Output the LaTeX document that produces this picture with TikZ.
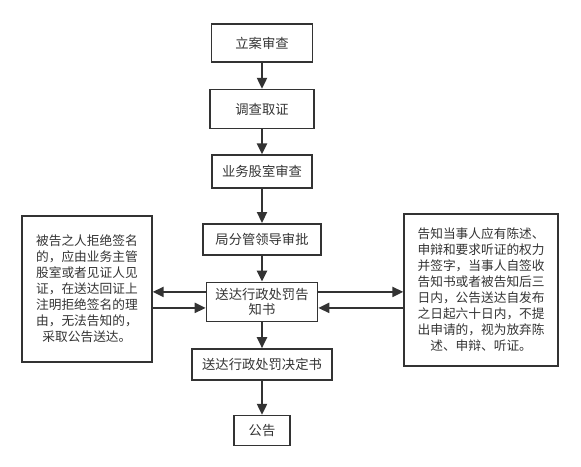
\documentclass[tikz,border=0pt]{standalone}
\usepackage{fontspec}
\setmainfont{Noto Sans CJK SC}
\usetikzlibrary{arrows.meta, positioning}
\definecolor{linegray}{HTML}{333333}

\begin{document}
\begin{tikzpicture}[x=1pt, y=1pt,
    node distance=27pt,
    stepbox/.style={draw=linegray, line width=1.6pt, text=linegray, font=\fontsize{13.3}{15.5}\selectfont, align=center, minimum height=31pt, inner sep=2pt},
    notebox/.style={draw=linegray, line width=1.6pt, text=linegray, font=\fontsize{12.7}{16}\selectfont, align=center, inner sep=2pt},
    flow/.style={-{Triangle[length=11pt, width=10pt]}, line width=2.2pt, draw=linegray},
  ]
  \useasboundingbox (0,0) rectangle (581,-466);

  \node[stepbox, minimum width=101pt, minimum height=38pt] (filing) at (262,-43) {立案审查};
  \node[stepbox, minimum width=104pt, minimum height=39pt, below=26pt of filing] (survey) {调查取证};
  \node[stepbox, minimum width=100pt, minimum height=33pt, below=25pt of survey] (office) {业务股室审查};
  \node[stepbox, minimum width=118pt, below=34pt of office] (leader) {局分管领导审批};
  \node[stepbox, minimum width=111pt, minimum height=39pt, below=26pt of leader] (inform) {送达行政处罚告\\知书};
  \node[stepbox, minimum width=140pt, below=26pt of inform] (decision) {送达行政处罚决定书};
  \node[stepbox, minimum width=56pt, minimum height=30pt, below=34pt of decision] (announce) {公告};

  % side notes
  \node[notebox, minimum width=130pt, minimum height=146pt, left=53pt of inform, yshift=13pt] (refuse) {被告之人拒绝签名\\的，应由业务主管\\股室或者见证人见\\证，在送达回证上\\注明拒绝签名的理\\由，无法告知的，\\采取公告送达。};
  \node[notebox, minimum width=154pt, minimum height=152pt, right=85pt of inform, yshift=12pt] (notice) {告知当事人应有陈述、\\申辩和要求听证的权力\\并签字，当事人自签收\\告知书或者被告知后三\\日内，公告送达自发布\\之日起六十日内，不提\\出申请的，视为放弃陈\\述、申辩、听证。};

  \draw[flow] (filing) -- (survey);
  \draw[flow] (survey) -- (office);
  \draw[flow] (office) -- (leader);
  \draw[flow] (leader) -- (inform);
  \draw[flow] (inform) -- (decision);
  \draw[flow] (decision) -- (announce);

  \draw[flow] ([yshift=10pt]inform.west) -- ([yshift=10pt]inform.west -| refuse.east);
  \draw[flow] ([yshift=-6pt]inform.west -| refuse.east) -- ([yshift=-6pt]inform.west);
  \draw[flow] ([yshift=10pt]inform.east) -- ([yshift=10pt]inform.east -| notice.west);
  \draw[flow] ([yshift=-6pt]inform.east -| notice.west) -- ([yshift=-6pt]inform.east);
\end{tikzpicture}
\end{document}
